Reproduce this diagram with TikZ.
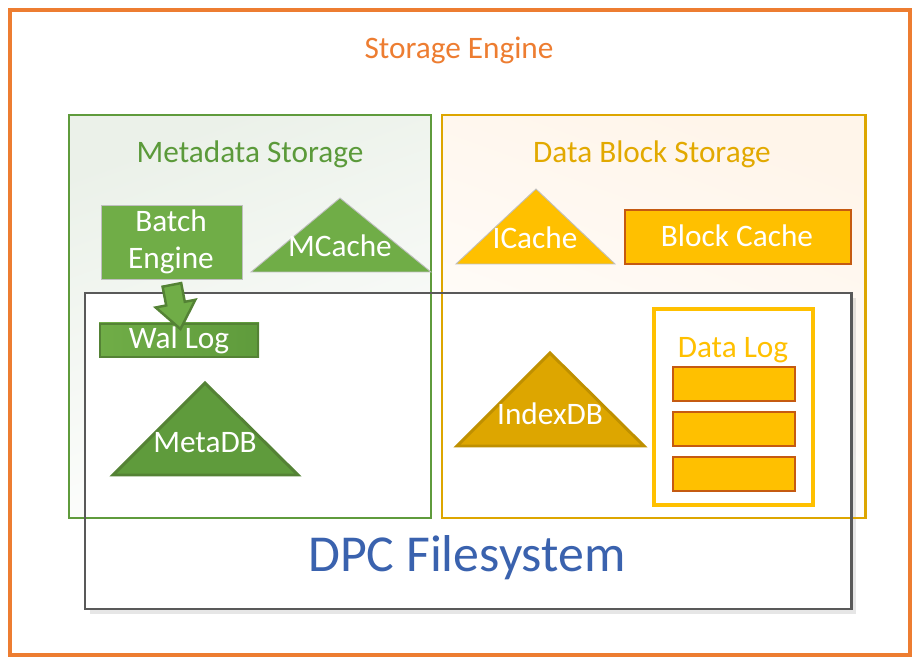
\documentclass[tikz,border=0pt]{standalone}
\usepackage{fontspec}
\setmainfont{Carlito}
\usetikzlibrary{shapes.arrows,shadows,calc}

\definecolor{engineorange}{HTML}{ED7D31}
\definecolor{metagreen}{HTML}{70AD47}
\definecolor{metamid}{HTML}{5F9B3C}
\definecolor{metadark}{HTML}{548235}
\definecolor{metatext}{HTML}{5B9A3A}
\definecolor{metafill}{HTML}{EBF1E9}
\definecolor{blockgold}{HTML}{FFC000}
\definecolor{blockmid}{HTML}{DDA600}
\definecolor{blockdark}{HTML}{BF9000}
\definecolor{blocktext}{HTML}{E2A900}
\definecolor{blockedge}{HTML}{C55A11}
\definecolor{blockfill}{HTML}{FFF5EA}
\definecolor{fsgrey}{HTML}{595959}
\definecolor{fsblue}{HTML}{3A62AE}
\definecolor{softgrey}{HTML}{BFBFBF}

\tikzset{
	label18/.style={font=\fontsize{17.8}{21.4}\selectfont, inner sep=0pt},
	whitelabel/.style={label18, text=white, align=center},
	fatarrow/.style={single arrow, draw=metadark, line width=1.4pt, fill=metagreen,
		inner sep=0.165cm, single arrow head extend=0.215cm, single arrow tip angle=76,
		minimum height=0.9cm, minimum width=0pt},
}

\begin{document}
\begin{tikzpicture}[x=0.02cm, y=-0.02cm]
	\useasboundingbox (0,0) rectangle (920,662);
	% storage engine frame
	\draw[engineorange, line width=1.8pt] (10,10) rectangle (910,655);
	\node[label18, text=engineorange] (engine) at (459,50) {Storage Engine};
	% storage backgrounds
	\shade[top color=metafill, bottom color=white, shading angle=20] (69,115) rectangle (431,518);
	\shade[top color=blockfill, bottom color=white, shading angle=-20] (442,115) rectangle (865,518);
	% filesystem cover
	\fill[white, drop shadow={shadow xshift=0.1cm, shadow yshift=-0.1cm, opacity=0.2}] (85,293) rectangle (851,609);
	% storage frames
	\draw[metamid, line width=1.7pt] (69,115) rectangle (431,518);
	\node[label18, text=metatext] (metastore) at (250,154) {Metadata Storage};
	\draw[blockmid, line width=1.7pt] (442,115) rectangle (865,518);
	\node[label18, text=blocktext] (blockstore) at (652,154) {Data Block Storage};
	% filesystem frame
	\draw[fsgrey, line width=1.7pt] (85,293) rectangle (851,609);
	\node[font=\fontsize{29.5}{35}\selectfont, inner sep=0pt, text=fsblue] (dpcfs) at (467,558) {DPC Filesystem};

	% metadata side
	\filldraw[fill=metagreen, draw=softgrey, line width=0.5pt] (101,205) rectangle (242,279);
	\node[whitelabel] (batch) at (171,242) {Batch\\Engine};
	\filldraw[fill=metagreen, draw=softgrey, line width=0.5pt] (251,272) -- (340,198) -- (431,272) -- cycle;
	\node[whitelabel] (mcache) at (340,246) {MCache};
	\shade[left color=metagreen, right color=metamid] (99,323) rectangle (259,358);
	\draw[metadark, line width=1.7pt] (100,324) rectangle (258,357);
	\node[whitelabel] (wal) at (179,340) {Wal Log};
	\coordinate (batchtail) at (171,279);
	\coordinate (waltip) at (179,323);
	\node[fatarrow, rotate=-79] (walarrow) at ($(batchtail)!0.5!(waltip)$) {};
	\filldraw[fill=metamid, draw=metadark, line width=1.7pt] (113,475) -- (205,383) -- (298,475) -- cycle;
	\node[whitelabel] (metadb) at (205,443) {MetaDB};

	% data block side
	\filldraw[fill=blockgold, draw=softgrey, line width=0.5pt] (456,264) -- (536,189) -- (615,264) -- cycle;
	\node[whitelabel] (icache) at (535,238) {ICache};
	\filldraw[fill=blockgold, draw=blockedge, line width=0.6pt] (625,210) rectangle (851,264);
	\node[whitelabel] (blockcache) at (737,236) {Block Cache};
	\filldraw[fill=blockmid, draw=blockdark, line width=1.7pt] (457,446) -- (550,353) -- (644,446) -- cycle;
	\node[whitelabel] (indexdb) at (550,414) {IndexDB};
	\filldraw[fill=white, draw=blockgold, line width=2pt] (654,309) rectangle (813,505);
	\node[label18, text=blockgold] (datalog) at (733,350) {Data Log};
	\foreach \top in {367,412,457}
		\filldraw[fill=blockgold, draw=blockedge, line width=0.8pt] (673,\top) rectangle (795,\top+34);
\end{tikzpicture}
\end{document}
